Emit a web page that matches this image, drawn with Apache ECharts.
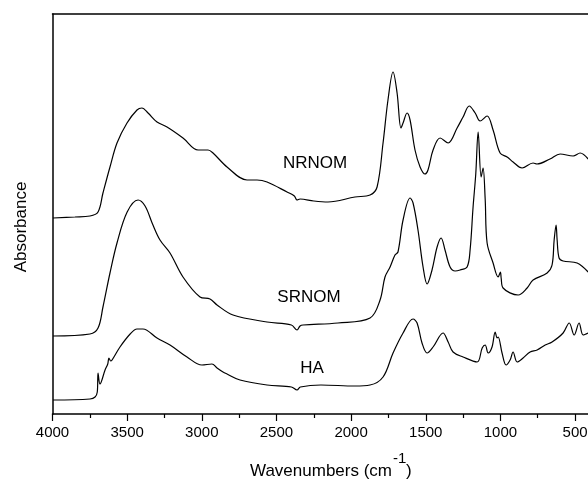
<!DOCTYPE html>
<html>
<head>
<meta charset="utf-8">
<script src="https://cdn.jsdelivr.net/npm/echarts@6/dist/echarts.min.js"></script>
<style>
html,body{margin:0;padding:0;background:#fff;overflow:hidden;width:588px;height:479px;}
#chart{width:660px;height:479px;}
</style>
</head>
<body>
<div id="chart"></div>
<script>
// Wavenumber (cm-1) / absorbance (arbitrary units, offset stacked)
var nrnomWn = [3997,3850,3749,3695,3662,3615,3568,3501,3434,3401,3360,3300,3233,3126,3025,2958,2925,2831,2697,2630,2563,2429,2380,2362,2342,2250,2155,1974,1873,1826,1786,1753,1719,1692,1666,1652,1625,1605,1572,1538,1505,1485,1451,1404,1350,1290,1250,1209,1169,1136,1089,1049,1002,955,915,855,781,755,668,600,513,466,412];
var nrnomAbs = [196,197,198,202,221,247,271,291,304,306,301,292,287,276,264,264,261,247,234,234,232,222,218,214,215,213,212,217,219,227,271,314,342,321,286,291,301,294,264,247,240,244,264,276,271,286,297,308,301,293,298,284,261,257,252,246,251,250,255,260,258,261,255];

var srnomWn = [3997,3749,3695,3662,3615,3568,3500,3427,3380,3330,3280,3213,3126,3012,2945,2898,2791,2563,2400,2362,2342,2322,2088,1873,1806,1773,1739,1706,1686,1652,1605,1585,1552,1518,1491,1458,1424,1397,1371,1337,1303,1270,1223,1203,1183,1165,1149,1129,1116,1102,1089,1049,1015,1000,995,982,881,821,781,687,654,640,627,620,607,580,486,412];
var srnomAbs = [78,80,86,107,141,171,202,214,208,190,174,161,137,117,115,109,99,92,89,84,88,89,91,96,114,137,147,159,162,194,216,211,184,147,130,144,167,176,164,147,143,144,147,164,207,240,282,237,246,215,171,151,137,142,136,126,119,126,134,141,149,174,189,174,156,153,151,142];

var haWn = [3997,3749,3715,3700,3695,3682,3648,3630,3622,3610,3601,3548,3480,3434,3394,3300,3213,3099,2999,2932,2898,2858,2831,2744,2563,2400,2362,2340,2202,1974,1873,1786,1719,1652,1585,1558,1525,1491,1451,1384,1350,1317,1250,1156,1122,1102,1082,1056,1035,1022,1015,989,962,935,915,888,848,801,754,700,654,580,539,506,473,446,412];
var haAbs = [14,15,17,22,41,30,44,50,56,53,54,67,80,85,85,76,69,57,49,50,46,42,40,34,29,27,24,27,29,28,29,37,61,81,95,91,71,61,67,81,72,62,57,52,66,69,61,67,82,76,77,61,49,54,62,52,56,62,64,69,72,81,91,79,91,79,81];

var seriesNames = ['NRNOM','SRNOM','HA'];
var xTickInterval = 500;

function pairs(xs, ys){ return xs.map(function(x,i){ return [x, ys[i]]; }); }

var chart = echarts.init(document.getElementById('chart'), null, {renderer:'canvas'});
var FONT = 'Liberation Sans, Arial, Helvetica, sans-serif';
var lineSeries = function(name, data){
  return {
    name: name, type: 'line', data: data, showSymbol: false, symbol: 'none',
    smooth: 0.35,
    lineStyle: {color: '#000', width: 1.2}, animation: false, silent: true, clip: true
  };
};
chart.setOption({
  animation: false,
  backgroundColor: '#fff',
  grid: {left: 52.5, right: 10.3, top: 14, bottom: 65, containLabel: false},
  xAxis: [{
    type: 'value', min: 0, max: 4000, interval: xTickInterval, inverse: true,
    position: 'bottom',
    axisLine: {show: true, onZero: false, lineStyle: {color: '#000', width: 1.5}},
    axisTick: {show: true, length: 7, lineStyle: {color: '#000', width: 1.2}},
    minorTick: {show: true, splitNumber: 2, length: 4, lineStyle: {color: '#000', width: 1.2}},
    axisLabel: {show: true, color: '#000', fontSize: 15, fontFamily: FONT, margin: 11,
      formatter: function(v){ return String(v); }},
    splitLine: {show: false}, minorSplitLine: {show: false}
  }, {
    type: 'value', min: 0, max: 4000, inverse: true, position: 'top',
    axisLine: {show: true, onZero: false, lineStyle: {color: '#000', width: 1.5}},
    axisTick: {show: false}, axisLabel: {show: false}, splitLine: {show: false}
  }],
  yAxis: {
    type: 'value', min: 0, max: 400,
    axisLine: {show: true, onZero: false, lineStyle: {color: '#000', width: 1.5}},
    axisTick: {show: false}, axisLabel: {show: false}, splitLine: {show: false}
  },
  series: [
    lineSeries(seriesNames[0], pairs(nrnomWn, nrnomAbs)),
    lineSeries(seriesNames[1], pairs(srnomWn, srnomAbs)),
    lineSeries(seriesNames[2], pairs(haWn, haAbs))
  ],
  graphic: [
    {type:'text', x: 315, y: 163, style:{text: seriesNames[0], fill:'#000', font: '17px ' + FONT, align:'center', verticalAlign:'middle'}},
    {type:'text', x: 309, y: 297, style:{text: seriesNames[1], fill:'#000', font: '17px ' + FONT, align:'center', verticalAlign:'middle'}},
    {type:'text', x: 312, y: 368, style:{text: seriesNames[2], fill:'#000', font: '17px ' + FONT, align:'center', verticalAlign:'middle'}},
    {type:'text', x: 21, y: 227, rotation: Math.PI/2, style:{text: 'Absorbance', fill:'#000', font: '17px ' + FONT, align:'center', verticalAlign:'middle'}},
    {type:'text', x: 250, y: 471, style:{text: 'Wavenumbers (cm', fill:'#000', font: '17px ' + FONT, align:'left', verticalAlign:'middle'}},
    {type:'text', x: 393, y: 459, style:{text: '-1', fill:'#000', font: '15px ' + FONT, align:'left', verticalAlign:'middle'}},
    {type:'text', x: 406, y: 471, style:{text: ')', fill:'#000', font: '17px ' + FONT, align:'left', verticalAlign:'middle'}}
  ]
});
</script>
</body>
</html>
